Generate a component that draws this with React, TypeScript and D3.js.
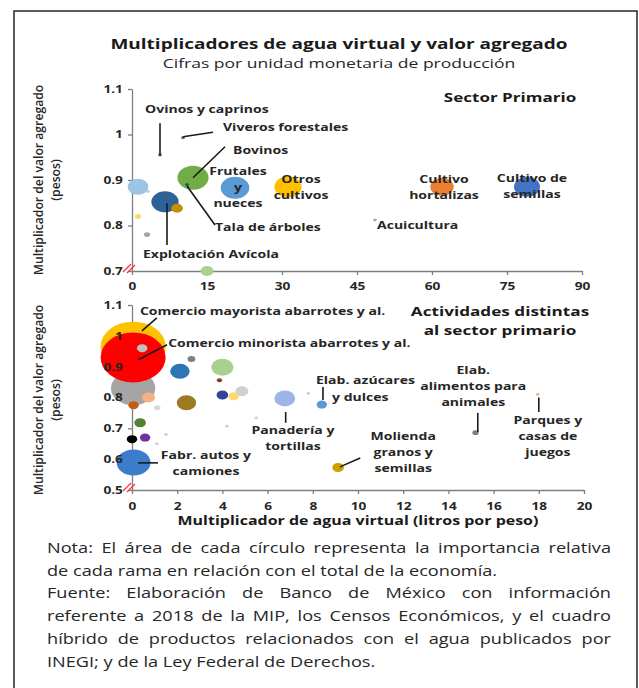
import {useEffect, useRef} from "react"
import * as d3 from "d3"

// Sector primario: agua virtual (litros por peso), valor agregado (pesos), peso relativo
const sectorPrimario = [
  {rama: "Pesca", agua: 1.2, valor: 0.885, peso: 0.64},
  {rama: "Tiny", agua: 3.2, valor: 0.875, peso: 0.02},
  {rama: "Bovinos", agua: 12.2, valor: 0.905, peso: 1.44},
  {rama: "Frutales y nueces", agua: 20.6, valor: 0.883, peso: 1.21},
  {rama: "Otros cultivos", agua: 31.2, valor: 0.885, peso: 1.1},
  {rama: "Explotación Avícola", agua: 6.6, valor: 0.852, peso: 1.1},
  {rama: "Porcinos", agua: 9, valor: 0.838, peso: 0.2},
  {rama: "Apicultura", agua: 1.2, valor: 0.82, peso: 0.06},
  {rama: "Otros animales", agua: 3, valor: 0.78, peso: 0.06},
  {rama: "Ovinos y caprinos", agua: 5.6, valor: 0.955, peso: 0.02},
  {rama: "Viveros forestales", agua: 10.2, valor: 0.993, peso: 0.02},
  {rama: "Tala de árboles", agua: 11, valor: 0.89, peso: 0.02},
  {rama: "Granos", agua: 15, valor: 0.7, peso: 0.25},
  {rama: "Cultivo hortalizas", agua: 62, valor: 0.885, peso: 0.81},
  {rama: "Cultivo de semillas", agua: 79, valor: 0.885, peso: 1.0},
  {rama: "Acuicultura", agua: 48.6, valor: 0.812, peso: 0.02},
]
const coloresPrimario = [
  "#9dc3e6", "#c9c9c9", "#70ad47", "#5b9bd5", "#ffc000", "#2f6199", "#bf9000", "#ffd966",
  "#a5a5a5", "#595959", "#595959", "#264478", "#a9d18e", "#ed7d31", "#4472c4", "#a5a5a5",
]

// Actividades distintas al sector primario
const otrasActividades = [
  {rama: "Comercio mayorista abarrotes y al.", agua: 0.05, valor: 0.965, peso: 6.25},
  {rama: "Servicios", agua: 0.05, valor: 0.83, peso: 2.9},
  {rama: "Comercio minorista abarrotes y al.", agua: 0.05, valor: 0.93, peso: 6.25},
  {rama: "Inmobiliarios", agua: 0.45, valor: 0.96, peso: 0.16},
  {rama: "Bebidas", agua: 2.12, valor: 0.885, peso: 0.56},
  {rama: "Lácteos", agua: 4.0, valor: 0.898, peso: 0.72},
  {rama: "Hoteles", agua: 2.63, valor: 0.925, peso: 0.09},
  {rama: "Curtido", agua: 3.87, valor: 0.856, peso: 0.04},
  {rama: "Matanza", agua: 2.41, valor: 0.783, peso: 0.56},
  {rama: "Conservas", agua: 4.0, valor: 0.808, peso: 0.2},
  {rama: "Aceites", agua: 4.5, valor: 0.804, peso: 0.16},
  {rama: "Papel", agua: 4.86, valor: 0.82, peso: 0.25},
  {rama: "Restaurantes", agua: 0.73, valor: 0.8, peso: 0.25},
  {rama: "Textiles", agua: 1.12, valor: 0.767, peso: 0.06},
  {rama: "Construcción", agua: 0.07, valor: 0.775, peso: 0.16},
  {rama: "Química", agua: 0.36, valor: 0.718, peso: 0.2},
  {rama: "Petróleo", agua: 0.0, valor: 0.665, peso: 0.16},
  {rama: "Farmacéutica", agua: 0.58, valor: 0.67, peso: 0.16},
  {rama: "Vidrio", agua: 1.5, valor: 0.68, peso: 0.02},
  {rama: "Plásticos", agua: 1.1, valor: 0.65, peso: 0.02},
  {rama: "Metálicas", agua: 0.22, valor: 0.616, peso: 0.09},
  {rama: "Fabr. autos y camiones", agua: 0.07, valor: 0.589, peso: 1.7},
  {rama: "Tabaco", agua: 4.2, valor: 0.707, peso: 0.02},
  {rama: "Panadería y tortillas", agua: 6.76, valor: 0.797, peso: 0.64},
  {rama: "Elab. azúcares y dulces", agua: 8.4, valor: 0.777, peso: 0.16},
  {rama: "Frutas", agua: 7.8, valor: 0.813, peso: 0.02},
  {rama: "Café", agua: 5.5, valor: 0.734, peso: 0.02},
  {rama: "Molienda granos y semillas", agua: 9.12, valor: 0.573, peso: 0.2},
  {rama: "Elab. alimentos para animales", agua: 15.2, valor: 0.686, peso: 0.06},
  {rama: "Parques y casas de juegos", agua: 17.95, valor: 0.81, peso: 0.02},
]
const coloresOtras = [
  "#ffc000", "#a5a5a5", "#ff0000", "#bfbfbf", "#2e75b6", "#a9d18e", "#7f7f7f", "#843c0c",
  "#9c7a24", "#34439c", "#ffd966", "#d0d0d0", "#f4b183", "#d9d9d9", "#c55a11", "#548235",
  "#000000", "#7030a0", "#d0d0d0", "#d0d0d0", "#70ad47", "#3d7cc9", "#d0d0d0", "#9db5e6",
  "#5b9bd5", "#d0d0d0", "#d0d0d0", "#c9a000", "#7f7f7f", "#f4b183",
]

const ticksXPrimario = [0, 15, 30, 45, 60, 75, 90]
const ticksYPrimario = [0.7, 0.8, 0.9, 1.0, 1.1]
const ticksXOtras = [0, 2, 4, 6, 8, 10, 12, 14, 16, 18, 20]
const ticksYOtras = [0.5, 0.6, 0.7, 0.8, 0.9, 1.0, 1.1]

// etiquetas en coordenadas de los datos (primera línea base)
const etiquetasPrimario = [
  {lines: ["Ovinos y caprinos"], x: 2.6, y: 1.047, anchor: "start"},
  {lines: ["Viveros forestales"], x: 18.2, y: 1.008, anchor: "start"},
  {lines: ["Bovinos"], x: 20.2, y: 0.957, anchor: "start"},
  {lines: ["Frutales", "y", "nueces"], x: 21.2, y: 0.911, anchor: "middle"},
  {lines: ["Otros", "cultivos"], x: 33.8, y: 0.893, anchor: "middle"},
  {lines: ["Tala de árboles"], x: 16.6, y: 0.788, anchor: "start"},
  {lines: ["Explotación Avícola"], x: 2.2, y: 0.729, anchor: "start"},
  {lines: ["Cultivo", "hortalizas"], x: 62.4, y: 0.893, anchor: "middle"},
  {lines: ["Cultivo de", "semillas"], x: 80, y: 0.896, anchor: "middle"},
  {lines: ["Acuicultura"], x: 49, y: 0.792, anchor: "start"},
]
const guiasPrimario = [
  [5.6, 1.025, 5.6, 0.955],
  [10.2, 0.995, 16.2, 1.005],
  [12.2, 0.905, 18.6, 0.973],
  [11, 0.887, 16.6, 0.801],
  [7, 0.849, 7, 0.757],
]
const etiquetasOtras = [
  {lines: ["Comercio mayorista abarrotes y al."], x: 0.35, y: 1.068, anchor: "start"},
  {lines: ["Comercio minorista abarrotes y al."], x: 1.6, y: 0.964, anchor: "start"},
  {lines: ["Elab. azúcares"], x: 8.14, y: 0.844, anchor: "start"},
  {lines: ["y dulces"], x: 8.85, y: 0.789, anchor: "start"},
  {lines: ["Panadería y", "tortillas"], x: 7.12, y: 0.682, anchor: "middle"},
  {lines: ["Fabr. autos y", "camiones"], x: 3.27, y: 0.601, anchor: "middle"},
  {lines: ["Molienda", "granos y", "semillas"], x: 12.0, y: 0.662, anchor: "middle"},
  {lines: ["Elab.", "alimentos para", "animales"], x: 15.1, y: 0.877, anchor: "middle"},
  {lines: ["Parques y", "casas de", "juegos"], x: 18.4, y: 0.714, anchor: "middle"},
]
const guiasOtras = [
  [1.1, 1.058, 0.44, 1.016],
  [0.27, 0.922, 1.55, 0.971],
  [8.45, 0.834, 8.45, 0.792],
  [6.8, 0.753, 6.8, 0.718],
  [0.27, 0.588, 1.15, 0.588],
  [9.2, 0.575, 10.1, 0.604],
  [15.3, 0.75, 15.3, 0.688],
  [18.0, 0.8, 18.0, 0.753],
]

const notaLines = [
  "Nota: El área de cada círculo representa la importancia relativa",
  "de cada rama en relación con el total de la economía.",
  "Fuente: Elaboración de Banco de México con información",
  "referente a 2018 de la MIP, los Censos Económicos, y el cuadro",
  "híbrido de productos relacionados con el agua publicados por",
  "INEGI; y de la Ley Federal de Derechos.",
]
const notaJustified = [true, false, true, true, true, false]

const FONT = "'Open Sans', sans-serif"
// la imagen original está estirada en horizontal
const SX = 1.3

const xTop = d3.scaleLinear().domain([0, 90]).range([132, 582])
const yTop = d3.scaleLinear().domain([0.7, 1.1]).range([271, 89])
const xBot = d3.scaleLinear().domain([0, 20]).range([132, 584])
const yBot = d3.scaleLinear().domain([0.5, 1.1]).range([490, 305])
const rScale = d3.scaleSqrt().domain([0, 1]).range([0, 10])

function SText(props: any) {
  const {x, y, children, ...rest} = props
  return (
    <text transform={`translate(${x},${y}) scale(${SX},1)`} fontFamily={FONT} {...rest}>
      {children}
    </text>
  )
}

function Axes(props: {
  x: any
  y: any
  xTicks: number[]
  yTicks: number[]
  labelY: number
  layer: "lines" | "labels"
}) {
  const ref = useRef<SVGGElement>(null)
  const {x, y, xTicks, yTicks, labelY, layer} = props
  useEffect(() => {
    const g = d3.select(ref.current)
    g.selectAll("*").remove()
    const fmt = (d: any) => String(+(+d).toFixed(1))
    const ya = g
      .append("g")
      .attr("transform", `translate(${x.range()[0]},0)`)
      .call(d3.axisLeft(y).tickValues(yTicks).tickSize(4).tickSizeOuter(0).tickFormat(fmt))
    const xa = g
      .append("g")
      .attr("transform", `translate(0,${y.range()[0]})`)
      .call(d3.axisBottom(x).tickValues(xTicks).tickSize(4).tickSizeOuter(0).tickFormat(fmt))
    ;[ya, xa].forEach((a) => {
      a.select(".domain").attr("stroke", "#7f7f7f").attr("stroke-width", 1.3)
      a.selectAll(".tick line").attr("stroke", "#7f7f7f").attr("stroke-width", 1.3)
      a.selectAll("text")
        .attr("font-family", FONT)
        .attr("font-size", 10.5)
        .attr("font-weight", 700)
        .attr("fill", "#262626")
      if (layer === "labels") {
        a.select(".domain").remove()
        a.selectAll(".tick line").remove()
      } else {
        a.selectAll("text").remove()
      }
    })
    ya.selectAll("text").attr("x", -7).attr("transform", `scale(${SX},1)`)
    xa.selectAll("text")
      .attr("y", labelY - y.range()[0])
      .attr("dy", "0.35em")
      .attr("transform", `scale(${SX},1)`)
    if (layer === "lines") {
      // marca de corte del eje
      const bx = x.range()[0]
      const by = y.range()[0]
      g.append("path")
        .attr("d", `M${bx - 9},${by + 1}L${bx - 1},${by - 7}M${bx - 5},${by + 2}L${bx + 3},${by - 6}`)
        .attr("stroke", "#ff3030")
        .attr("stroke-width", 1.2)
    }
  }, [])
  return <g ref={ref} />
}

function Bubbles(props: {data: any[]; colors: string[]; x: any; y: any}) {
  return (
    <g>
      {props.data.map((d, i) => {
        const r = rScale(d.peso)
        return (
          <ellipse
            key={i}
            cx={props.x(d.agua)}
            cy={props.y(d.valor)}
            rx={r * SX}
            ry={r}
            fill={props.colors[i]}
          />
        )
      })}
    </g>
  )
}

function Labels(props: {labels: any[]; guides: number[][]; x: any; y: any}) {
  return (
    <g>
      {props.guides.map((g, i) => (
        <line
          key={"g" + i}
          x1={props.x(g[0])}
          y1={props.y(g[1])}
          x2={props.x(g[2])}
          y2={props.y(g[3])}
          stroke="#1a1a1a"
          strokeWidth={1.6}
        />
      ))}
      {props.labels.map((l, i) => (
        <SText
          key={i}
          x={props.x(l.x)}
          y={props.y(l.y)}
          textAnchor={l.anchor}
          fontSize={10.8}
          fontWeight={700}
          fill="#262626"
        >
          {l.lines.map((t: string, j: number) => (
            <tspan key={j} x={0} dy={j === 0 ? 0 : 16}>
              {t}
            </tspan>
          ))}
        </SText>
      ))}
    </g>
  )
}

// nota al pie: renglones justificados entre x0 y x1
function Nota(props: {x0: number; x1: number; y0: number; lineH: number}) {
  const ref = useRef<SVGGElement>(null)
  const {x0, x1, y0, lineH} = props
  useEffect(() => {
    const g = d3.select(ref.current)
    g.selectAll("*").remove()
    const texts = notaLines.map((t, i) =>
      g
        .append("text")
        .attr("x", 0)
        .attr("y", 0)
        .attr("font-family", FONT)
        .attr("font-size", 14.2)
        .attr("fill", "#262626")
        .text(t)
    )
    // ancho del renglón 2 en la imagen: 450px
    const k = 450 / (texts[1].node() as SVGTextElement).getComputedTextLength()
    const target = (x1 - x0) / k
    texts.forEach((t, i) => {
      t.attr("transform", `translate(${x0},${y0 + i * lineH}) scale(${k},1)`)
      if (notaJustified[i]) {
        const L = (t.node() as SVGTextElement).getComputedTextLength()
        const gaps = notaLines[i].split(" ").length - 1
        t.attr("word-spacing", (target - L) / gaps)
      }
    })
  }, [])
  return <g ref={ref} />
}

export default function App() {
  return (
    <svg
      width={639}
      height={688}
      style={{position: "absolute", left: 0, top: 0, background: "#fff"}}
    >
      <rect x={14} y={11} width={623} height={700} fill="#fff" stroke="#262626" strokeWidth={1.5} />
      <SText x={339} y={49} textAnchor="middle" fontSize={14.6} fontWeight={700} fill="#1a1a1a">
        Multiplicadores de agua virtual y valor agregado
      </SText>
      <SText x={339} y={68} textAnchor="middle" fontSize={13.5} fill="#262626">
        Cifras por unidad monetaria de producción
      </SText>

      {[180, 400].map((cy, i) => (
        <text
          key={i}
          transform={`translate(43,${cy}) rotate(-90)`}
          textAnchor="middle"
          fontFamily={FONT}
          fontSize={12.2}
          fontWeight={600}
          fill="#262626"
        >
          <tspan x={0} dy={0}>Multiplicador del valor agregado</tspan>
          <tspan x={0} dy={17}>(pesos)</tspan>
        </text>
      ))}

      <Axes x={xTop} y={yTop} xTicks={ticksXPrimario} yTicks={ticksYPrimario} labelY={286} layer="lines" />
      <Bubbles data={sectorPrimario} colors={coloresPrimario} x={xTop} y={yTop} />
      <Axes x={xTop} y={yTop} xTicks={ticksXPrimario} yTicks={ticksYPrimario} labelY={286} layer="labels" />
      <Labels labels={etiquetasPrimario} guides={guiasPrimario} x={xTop} y={yTop} />
      <SText x={510} y={102} textAnchor="middle" fontSize={13.1} fontWeight={700} fill="#1a1a1a">
        Sector Primario
      </SText>

      <Axes x={xBot} y={yBot} xTicks={ticksXOtras} yTicks={ticksYOtras} labelY={506} layer="lines" />
      <Bubbles data={otrasActividades} colors={coloresOtras} x={xBot} y={yBot} />
      <Axes x={xBot} y={yBot} xTicks={ticksXOtras} yTicks={ticksYOtras} labelY={506} layer="labels" />
      <Labels labels={etiquetasOtras} guides={guiasOtras} x={xBot} y={yBot} />
      <SText x={500} y={316} textAnchor="middle" fontSize={13.2} fontWeight={700} fill="#1a1a1a">
        <tspan x={0} dy={0}>Actividades distintas</tspan>
        <tspan x={0} dy={19}>al sector primario</tspan>
      </SText>
      <SText x={358} y={525} textAnchor="middle" fontSize={12.3} fontWeight={700} fill="#1a1a1a">
        Multiplicador de agua virtual (litros por peso)
      </SText>

      <Nota x0={47} x1={611} y0={553} lineH={22.7} />
    </svg>
  )
}
